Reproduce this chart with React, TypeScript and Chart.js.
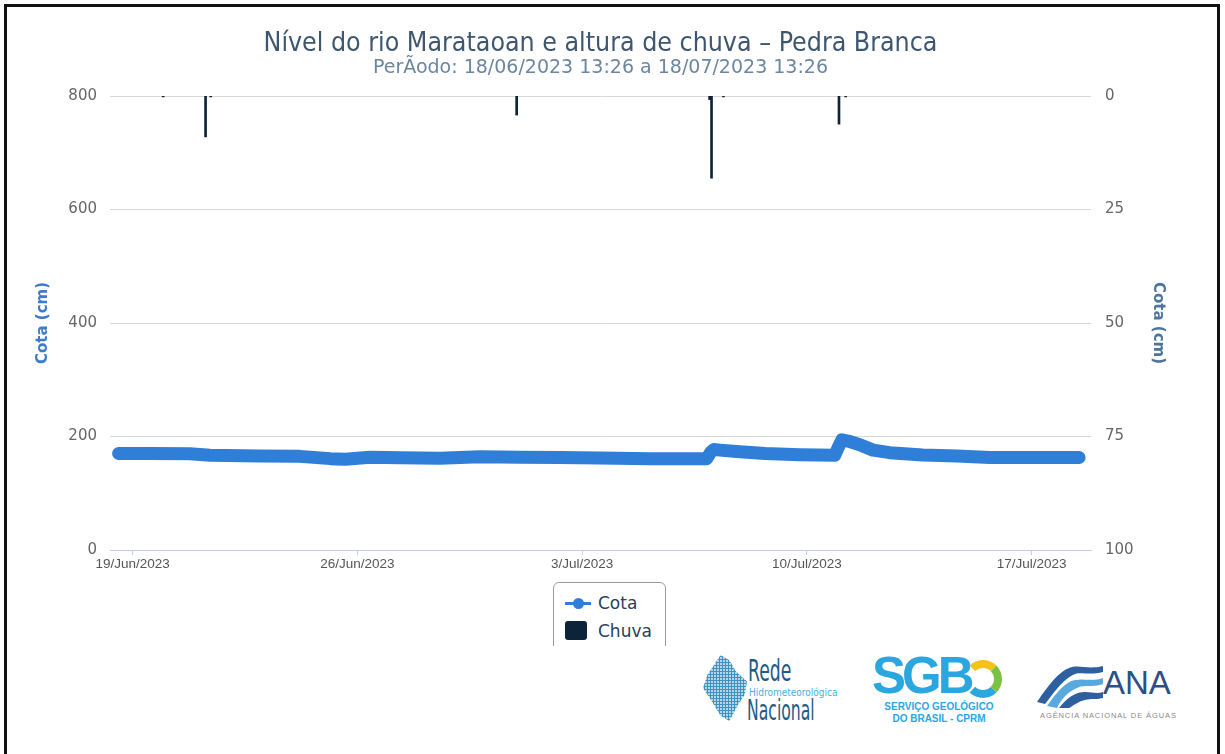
import React, { useEffect, useRef } from "react";
import { Chart, registerables } from "chart.js";

Chart.register(...registerables);

// Days counted from 18/Jun/2023 00:00
const cotaDays = [
  0.56, 1.54, 2.78, 3.41, 4.96, 6.21, 7.15, 7.62, 8.39, 9.33, 10.57, 11.82,
  13.06, 14.3, 15.55, 17.11, 18.67, 18.88, 19.0, 19.1, 19.29, 19.91, 20.7,
  21.78, 22.87, 22.97, 23.09, 23.28, 23.65, 24.06, 24.58, 25.61, 26.67, 27.7,
  28.95, 30.48,
];
const cotaValues = [
  170, 170, 169.5, 167, 165.5, 165, 161, 160, 163.5, 162.5, 161.5, 164.5,
  163.5, 163, 162, 161, 161, 161, 172, 177, 176, 173, 170,
  168, 167, 180, 194, 192, 185.5, 176, 171.5, 167.5, 165.5, 163,
  163, 163,
];

const chuvaDays = [1.95, 3.27, 3.43, 12.96, 18.97, 19.03, 19.4, 23.0, 23.21];
const chuvaValues = [0.2, 9.0, 0.2, 4.2, 0.8, 18.1, 0.2, 6.2, 0.2];

const xTickDays = [1, 8, 15, 22, 29];
const xTickLabels = ["19/Jun/2023", "26/Jun/2023", "3/Jul/2023", "10/Jul/2023", "17/Jul/2023"];
const leftTicks = [0, 200, 400, 600, 800];
const rightTicks = [0, 25, 50, 75, 100];

const titleText = "Nível do rio Marataoan e altura de chuva – Pedra Branca";
const subtitleText = "PerÃodo: 18/06/2023 13:26 a 18/07/2023 13:26";

function ChartCanvas() {
  const ref = useRef<HTMLCanvasElement | null>(null);
  useEffect(() => {
    if (!ref.current) return;
    const chart = new Chart(ref.current, {
      type: "bar",
      data: {
        datasets: [
          {
            type: "line",
            label: "Cota",
            data: cotaDays.map((d, i) => ({ x: d, y: cotaValues[i] })),
            borderColor: "#2f7ed8",
            backgroundColor: "#2f7ed8",
            borderWidth: 13,
            borderCapStyle: "round",
            borderJoinStyle: "round",
            pointRadius: 0,
            tension: 0,
            yAxisID: "y",
            order: 1,
          } as any,
          {
            type: "bar",
            label: "Chuva",
            data: chuvaDays.map((d, i) => ({ x: d, y: chuvaValues[i] })),
            backgroundColor: "#0d233a",
            barThickness: 2,
            yAxisID: "y1",
            order: 2,
          } as any,
        ],
      },
      options: {
        responsive: false,
        maintainAspectRatio: false,
        animation: false,
        layout: { padding: { left: 28, right: 52, top: 0, bottom: 20 } },
        plugins: {
          legend: { display: false },
          tooltip: { enabled: false },
          title: {
            display: true,
            text: titleText,
            color: "#3e576f",
            font: { family: "'DejaVu Sans Condensed', 'DejaVu Sans'", size: 26.5, weight: "normal", lineHeight: 1 },
            padding: { top: 31, bottom: 0 },
          },
          subtitle: {
            display: true,
            text: subtitleText,
            color: "#6d869f",
            font: { family: "'DejaVu Sans'", size: 19, weight: "normal", lineHeight: 1 },
            padding: { top: 1.5, bottom: 18 },
          },
        },
        scales: {
          x: {
            type: "linear",
            min: 0.293,
            max: 30.85,
            offset: false,
            afterBuildTicks: (s: any) => {
              s.ticks = xTickDays.map((v) => ({ value: v }));
            },
            ticks: {
              autoSkip: false,
              maxRotation: 0,
              padding: 1,
              color: "#555",
              font: { family: "'Liberation Sans', Arial", size: 13.5 },
              callback: (_v: any, i: number) => xTickLabels[i],
            },
            grid: { offset: false, drawOnChartArea: false, drawTicks: true, tickLength: 5, color: "#C0D0E0" },
            border: { display: true, color: "#C0D0E0" },
            afterFit: (s: any) => {
              s.height = 30;
            },
          },
          y: {
            position: "left",
            min: 0,
            max: 800,
            afterBuildTicks: (s: any) => {
              s.ticks = leftTicks.map((v) => ({ value: v }));
            },
            ticks: {
              padding: 13,
              color: "#666",
              font: { family: "'DejaVu Sans'", size: 15 },
            },
            grid: { color: "#d8d8d8", drawTicks: false },
            border: { display: false },
            title: {
              display: true,
              text: "Cota (cm)",
              color: "#3d7cc9",
              font: { family: "'DejaVu Sans'", size: 15, weight: "bold" },
              padding: { top: 6, bottom: 0 },
            },
            afterFit: (s: any) => {
              s.width = 82;
            },
          },
          y1: {
            position: "right",
            min: 0,
            max: 100,
            reverse: true,
            afterBuildTicks: (s: any) => {
              s.ticks = rightTicks.map((v) => ({ value: v }));
            },
            ticks: {
              padding: 14,
              color: "#666",
              font: { family: "'DejaVu Sans'", size: 15 },
            },
            grid: { display: false, drawTicks: false },
            border: { display: false },
            title: {
              display: true,
              text: "Cota (cm)",
              color: "#4d759e",
              font: { family: "'DejaVu Sans'", size: 15, weight: "bold" },
              padding: { top: 6, bottom: 0 },
            },
            afterFit: (s: any) => {
              s.width = 82;
            },
          },
        },
      } as any,
    });
    return () => chart.destroy();
  }, []);
  return (
    <canvas
      ref={ref}
      width={1225}
      height={600}
      style={{ position: "absolute", left: 0, top: 0, width: 1225, height: 600 }}
    />
  );
}

function Legend() {
  return (
    <div style={{ position: "absolute", left: 553, top: 582, width: 113, height: 64, overflow: "hidden" }}>
      <div
        style={{
          position: "absolute",
          left: 0,
          top: 0,
          width: 111,
          height: 80,
          border: "1px solid #9a9a9a",
          borderRadius: 6,
          background: "#fff",
        }}
      />
      <div style={{ position: "absolute", left: 12, top: 20, width: 26, height: 3, background: "#2f7ed8" }} />
      <div
        style={{ position: "absolute", left: 20, top: 16, width: 11, height: 11, borderRadius: "50%", background: "#2f7ed8" }}
      />
      <div
        style={{
          position: "absolute",
          left: 45,
          top: 10,
          font: "17px 'DejaVu Sans'",
          color: "#2b3f57",
          lineHeight: "22px",
        }}
      >
        Cota
      </div>
      <div
        style={{ position: "absolute", left: 12, top: 39, width: 22, height: 19, borderRadius: 3, background: "#0d233a" }}
      />
      <div
        style={{
          position: "absolute",
          left: 45,
          top: 38,
          font: "17px 'DejaVu Sans'",
          color: "#2b3f57",
          lineHeight: "22px",
        }}
      >
        Chuva
      </div>
    </div>
  );
}

function Logos() {
  const narrow = "'Liberation Sans Narrow', 'DejaVu Sans Condensed', sans-serif";
  return (
    <>
      {/* Rede Hidrometeorológica Nacional */}
      <div
        style={{
          position: "absolute",
          left: 703,
          top: 655,
          width: 44,
          height: 66,
          backgroundImage: "radial-gradient(circle, #2a86b8 1.1px, transparent 1.6px)",
          backgroundSize: "3px 3px",
          clipPath: "polygon(40% 0%, 60% 8%, 75% 25%, 100% 40%, 95% 60%, 80% 75%, 60% 100%, 40% 92%, 20% 70%, 0% 50%, 10% 30%, 25% 15%)",
          opacity: 0.9,
        }}
      />
      <div
        style={{
          position: "absolute",
          left: 748,
          top: 654,
          font: `30px ${narrow}`,
          color: "#1f5b86",
          lineHeight: "34px",
          transform: "scaleX(0.64)",
          transformOrigin: "0 0",
        }}
      >
        Rede
      </div>
      <div style={{ position: "absolute", left: 749, top: 687, font: `10px ${narrow}`, color: "#45b0e0", lineHeight: "11px" }}>
        Hidrometeorológica
      </div>
      <div
        style={{
          position: "absolute",
          left: 747,
          top: 695,
          font: `29px ${narrow}`,
          color: "#1f5b86",
          lineHeight: "30px",
          transform: "scaleX(0.6)",
          transformOrigin: "0 0",
        }}
      >
        Nacional
      </div>

      {/* SGB */}
      <div
        style={{
          position: "absolute",
          left: 872,
          top: 648,
          font: "900 52px 'Liberation Sans', Arial",
          color: "#2aa7df",
          letterSpacing: -4,
          lineHeight: "54px",
          transform: "scaleX(0.98)",
          transformOrigin: "0 0",
        }}
      >
        SGB
      </div>
      <div
        style={{
          position: "absolute",
          left: 964,
          top: 660,
          width: 22,
          height: 22,
          borderRadius: "50%",
          border: "8px solid #2aa7df",
          borderTopColor: "#f4c21b",
          borderRightColor: "#7cc242",
          borderLeftColor: "transparent",
        }}
      />
      <div
        style={{
          position: "absolute",
          left: 872,
          top: 701,
          width: 134,
          textAlign: "center",
          font: "bold 10px 'Liberation Sans', Arial",
          color: "#2aa7df",
          lineHeight: "12px",
        }}
      >
        SERVIÇO GEOLÓGICO
        <br />
        DO BRASIL - CPRM
      </div>

      {/* ANA */}
      <svg style={{ position: "absolute", left: 1035, top: 662 }} width={70} height={46}>
        <path d="M2 40 C 14 22, 24 10, 34 6 C 44 2, 52 8, 68 4 L 68 10 C 52 14, 44 8, 36 14 C 26 20, 18 32, 10 42 Z" fill="#2e5f9e" />
        <path d="M12 44 C 22 30, 30 20, 40 18 C 50 16, 56 20, 68 16 L 68 22 C 56 26, 50 22, 42 26 C 32 30, 26 38, 22 46 Z" fill="#5aa9dc" />
        <path d="M24 46 C 32 36, 40 30, 50 30 C 58 30, 62 32, 68 30 L 68 36 C 60 38, 56 36, 50 38 C 42 40, 38 44, 34 46 Z" fill="#2e5f9e" />
      </svg>
      <div style={{ position: "absolute", left: 1103, top: 664, font: "33px 'Liberation Sans', Arial", color: "#2d4f86", lineHeight: "38px" }}>
        ANA
      </div>
      <div
        style={{
          position: "absolute",
          left: 1040,
          top: 711,
          font: "7.5px 'Liberation Sans', Arial",
          color: "#8a8a8a",
          lineHeight: "9px",
          letterSpacing: 0.9,
          whiteSpace: "nowrap",
        }}
      >
        AGÊNCIA NACIONAL DE ÁGUAS
      </div>
    </>
  );
}

export default function App() {
  return (
    <div style={{ position: "fixed", left: 0, top: 0, width: 1225, height: 754, overflow: "hidden", background: "#fff" }}>
      <div
        style={{
          position: "absolute",
          left: 4,
          top: 4,
          width: 1210,
          height: 800,
          border: "3px solid #111",
          borderBottom: "none",
        }}
      />
      <ChartCanvas />
      <Legend />
      <Logos />
    </div>
  );
}
